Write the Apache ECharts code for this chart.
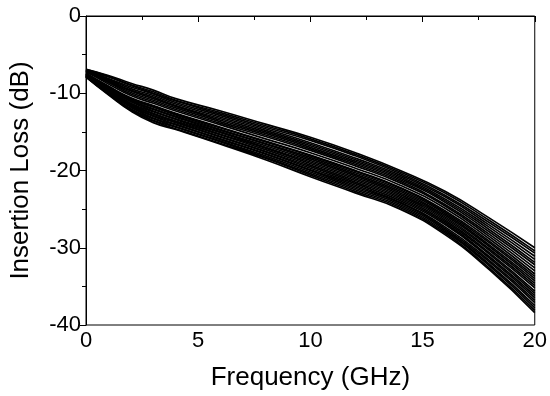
<!DOCTYPE html>
<html>
<head>
<meta charset="utf-8">
<script src="https://cdn.jsdelivr.net/npm/echarts@6/dist/echarts.min.js"></script>
<style>
  html, body { margin: 0; padding: 0; background: #fff; }
  #chart { width: 550px; height: 396px; }
</style>
</head>
<body>
<div id="chart"></div>
<script>
// frequency points (GHz) where each trace was read
const freqs = [0, 1, 2, 3, 4, 6, 8, 10, 12, 14, 16, 18, 20];

// upper group of traces (insertion loss, dB)
const upper = [
  [-6.9, -7.7, -8.7, -9.6, -10.7, -12.3, -14.0, -15.7, -17.7, -20.0, -22.7, -26.2, -30.0],
  [-6.9, -7.8, -8.9, -9.8, -10.9, -12.5, -14.2, -15.9, -17.9, -20.2, -22.9, -26.5, -30.4],
  [-7.0, -7.9, -9.0, -10.0, -11.0, -12.7, -14.4, -16.1, -18.1, -20.4, -23.2, -26.8, -30.7],
  [-7.0, -8.1, -9.2, -10.1, -11.2, -12.9, -14.6, -16.4, -18.4, -20.6, -23.4, -27.1, -31.1],
  [-7.0, -8.2, -9.4, -10.3, -11.4, -13.1, -14.8, -16.6, -18.6, -20.8, -23.7, -27.4, -31.5],
  [-7.1, -8.3, -9.6, -10.5, -11.6, -13.3, -15.0, -16.8, -18.8, -21.0, -23.9, -27.7, -31.9],
  [-7.1, -8.4, -9.7, -10.7, -11.7, -13.5, -15.2, -17.0, -19.0, -21.2, -24.1, -28.0, -32.2],
  [-7.1, -8.5, -9.9, -10.9, -11.9, -13.7, -15.4, -17.2, -19.2, -21.4, -24.4, -28.3, -32.6],
  [-7.2, -8.6, -10.1, -11.1, -12.1, -13.9, -15.6, -17.4, -19.4, -21.6, -24.6, -28.6, -33.0],
  [-7.2, -8.8, -10.3, -11.3, -12.3, -14.1, -15.9, -17.7, -19.7, -21.9, -24.9, -28.9, -33.4]
];

// lower group of traces (insertion loss, dB)
const lower = [
  [-7.4, -9.1, -10.6, -11.6, -12.6, -14.4, -16.2, -18.0, -20.0, -22.2, -25.2, -29.2, -33.7],
  [-7.4, -9.1, -10.7, -11.7, -12.7, -14.5, -16.3, -18.1, -20.1, -22.3, -25.4, -29.4, -34.0],
  [-7.5, -9.2, -10.8, -11.8, -12.8, -14.7, -16.5, -18.3, -20.3, -22.5, -25.6, -29.7, -34.3],
  [-7.5, -9.3, -10.9, -12.0, -13.0, -14.8, -16.6, -18.5, -20.5, -22.7, -25.8, -29.9, -34.6],
  [-7.5, -9.4, -11.0, -12.1, -13.1, -15.0, -16.8, -18.7, -20.7, -22.9, -26.0, -30.2, -34.9],
  [-7.6, -9.4, -11.1, -12.3, -13.3, -15.1, -17.0, -18.9, -20.9, -23.1, -26.2, -30.4, -35.2],
  [-7.6, -9.5, -11.3, -12.4, -13.4, -15.3, -17.1, -19.1, -21.1, -23.3, -26.4, -30.7, -35.6],
  [-7.6, -9.6, -11.4, -12.6, -13.6, -15.4, -17.3, -19.3, -21.3, -23.5, -26.6, -30.9, -35.9],
  [-7.7, -9.7, -11.5, -12.7, -13.7, -15.6, -17.5, -19.5, -21.5, -23.7, -26.8, -31.2, -36.2],
  [-7.7, -9.7, -11.6, -12.9, -13.8, -15.7, -17.6, -19.7, -21.7, -23.9, -27.0, -31.4, -36.5],
  [-7.7, -9.8, -11.7, -13.0, -14.0, -15.9, -17.8, -19.9, -21.9, -24.1, -27.3, -31.7, -36.8],
  [-7.8, -9.9, -11.8, -13.2, -14.1, -16.0, -17.9, -20.0, -22.1, -24.2, -27.5, -31.9, -37.1],
  [-7.8, -10.0, -12.0, -13.3, -14.3, -16.2, -18.1, -20.2, -22.3, -24.4, -27.7, -32.2, -37.5],
  [-7.8, -10.1, -12.1, -13.5, -14.4, -16.3, -18.3, -20.4, -22.5, -24.6, -27.9, -32.4, -37.8],
  [-7.9, -10.1, -12.2, -13.6, -14.6, -16.5, -18.4, -20.6, -22.7, -24.8, -28.1, -32.7, -38.1],
  [-7.9, -10.2, -12.3, -13.8, -14.7, -16.6, -18.6, -20.8, -22.9, -25.0, -28.3, -32.9, -38.4]
];

const xTicks = { min: 0, max: 20, step: 5 };
const yTicks = { min: -40, max: 0, step: 10 };

const font = "'Liberation Sans', Arial, sans-serif";

const traces = upper.concat(lower);
const series = traces.map((vals, i) => ({
  name: "trace" + (i + 1),
  type: "line",
  data: freqs.map((f, j) => [f, vals[j]]),
  showSymbol: false,
  smooth: 0.5,
  lineStyle: { color: "#000", width: 1.7 },
  emphasis: { disabled: true },
}));

const chart = echarts.init(document.getElementById("chart"));
chart.setOption({
  animation: false,
  backgroundColor: "#fff",
  grid: {
    left: 86,
    right: 12,
    top: 16,
    bottom: 68,
    show: true,
    borderColor: "#000",
    borderWidth: 1,
  },
  xAxis: {
    type: "value",
    min: xTicks.min,
    max: xTicks.max,
    interval: xTicks.step,
    name: "Frequency (GHz)",
    nameLocation: "middle",
    nameGap: 40,
    nameTextStyle: { fontFamily: font, fontSize: 26, color: "#000", verticalAlign: "top" },
    axisLine: { lineStyle: { color: "#000", width: 1 } },
    axisTick: { length: 6, lineStyle: { color: "#000" } },
    minorTick: { show: true, splitNumber: 2, length: 4, lineStyle: { color: "#000" } },
    splitLine: { show: false },
    axisLabel: { fontFamily: font, fontSize: 22, color: "#000", margin: 5 },
  },
  yAxis: {
    type: "value",
    min: yTicks.min,
    max: yTicks.max,
    interval: yTicks.step,
    name: "Insertion Loss (dB)",
    nameLocation: "middle",
    nameGap: 52,
    nameTextStyle: { fontFamily: font, fontSize: 26, color: "#000" },
    axisLine: { lineStyle: { color: "#000", width: 1 } },
    axisTick: { length: 6, lineStyle: { color: "#000" } },
    minorTick: { show: true, splitNumber: 2, length: 4, lineStyle: { color: "#000" } },
    splitLine: { show: false },
    axisLabel: { fontFamily: font, fontSize: 22, color: "#000", margin: 5 },
  },
  series: series,
});
</script>
</body>
</html>
